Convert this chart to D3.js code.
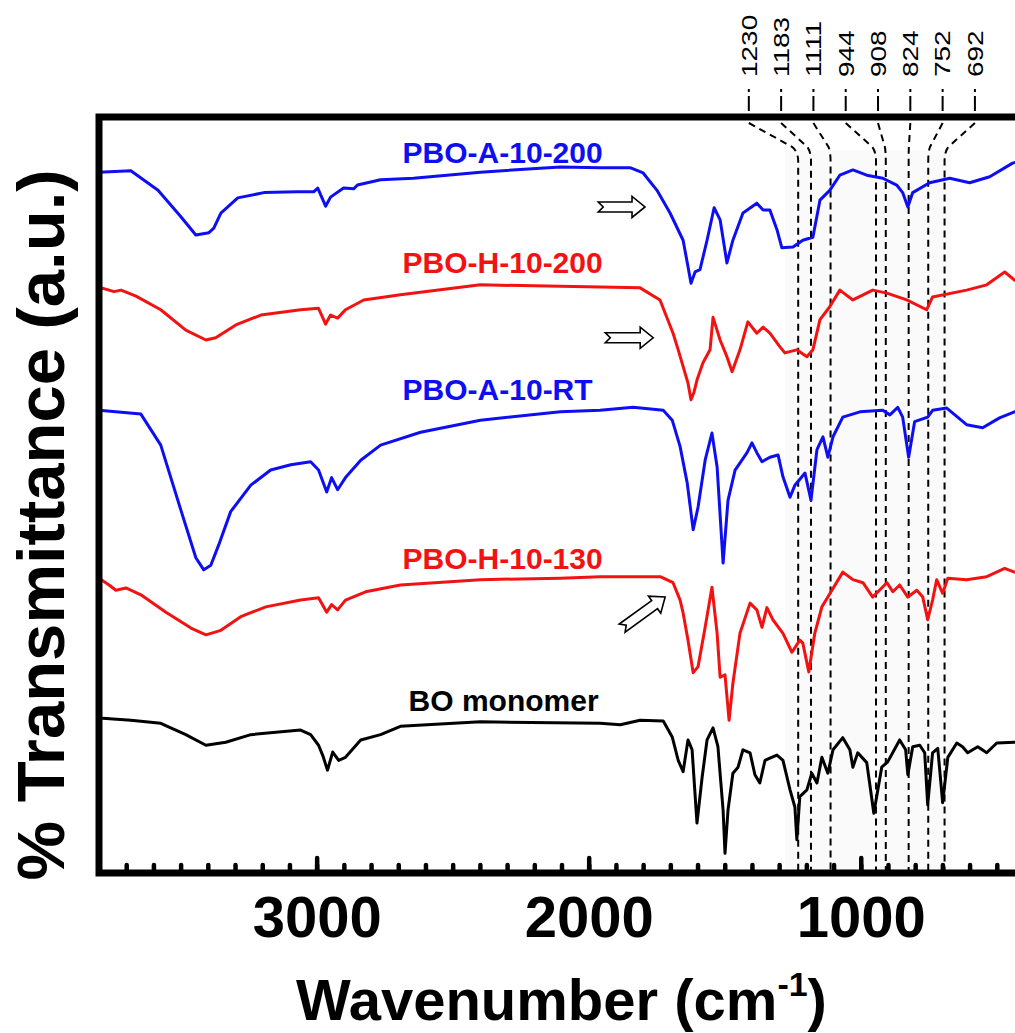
<!DOCTYPE html>
<html><head><meta charset="utf-8">
<script src="https://cdn.jsdelivr.net/npm/d3@7"></script>
<style>body{margin:0;background:#fff}svg{display:block}</style>
</head><body>
<svg id="chart" width="1015" height="1033"></svg>
<script>
// ---------------- data ----------------
const xDomain = [3800, 400];          // wavenumber, cm-1 (reversed axis)
const yDomain = [0, 100];             // % transmittance, arbitrary units (offset spectra)
const majorTicks = [3000, 2000, 1000];
const minorTicks = [3800,3700,3600,3500,3400,3300,3200,3100,3000,2900,2800,2700,2600,2500,2400,2300,2200,2100,2000,1900,1800,1700,1600,1500,1400,1300,1200,1100,1000,900,800,700,600,500,400];
const peakMarks = [1230, 1183, 1111, 944, 908, 824, 752, 692];
const seriesNames = ["PBO-A-10-200", "PBO-H-10-200", "PBO-A-10-RT", "PBO-H-10-130", "BO monomer"];

const pboA200 = [[3800,92.7],[3683,92.9],[3583,90.3],[3499,86.8],[3444,84.4],[3396,84.7],[3378,85.3],[3352,87.3],[3290,89.3],[3194,90.0],[3070,90.1],[3011,90.1],[2996,90.6],[2967,88.2],[2949,89.4],[2901,90.6],[2864,90.5],[2850,91.0],[2765,91.7],[2644,91.9],[2398,92.7],[2104,93.4],[1958,93.3],[1848,93.3],[1800,92.6],[1749,90.3],[1701,87.3],[1653,83.7],[1635,80.2],[1624,78.0],[1609,79.5],[1591,79.8],[1565,83.7],[1539,88.0],[1517,86.4],[1492,80.7],[1470,83.7],[1433,87.3],[1382,88.6],[1359,87.7],[1334,87.7],[1308,85.1],[1290,82.7],[1249,82.8],[1213,83.7],[1176,84.1],[1150,89.0],[1114,90.3],[1077,92.3],[1029,93.0],[978,92.3],[919,91.9],[868,91.0],[846,90.0],[827,88.1],[809,90.0],[747,91.3],[673,91.9],[600,91.3],[526,92.1],[442,93.9],[400,94.3]];

const pboH200 = [[3800,77.5],[3745,76.9],[3719,77.1],[3664,76.3],[3573,74.5],[3481,71.8],[3407,70.5],[3371,70.8],[3297,72.5],[3205,73.8],[3059,74.5],[2993,74.7],[2967,72.6],[2949,73.8],[2923,73.4],[2894,74.5],[2827,75.8],[2692,76.5],[2398,77.8],[2104,77.6],[1811,77.4],[1738,75.8],[1690,71.4],[1671,69.2],[1635,64.8],[1624,62.6],[1613,63.6],[1602,65.2],[1580,67.5],[1554,69.2],[1543,73.5],[1517,70.5],[1492,68.3],[1473,66.3],[1444,69.2],[1415,72.9],[1382,71.4],[1359,72.2],[1334,71.4],[1297,69.6],[1279,68.8],[1235,69.2],[1198,68.3],[1176,69.2],[1150,73.2],[1114,74.9],[1077,77.1],[1029,75.8],[956,77.1],[904,76.7],[831,75.8],[758,74.5],[736,76.2],[611,77.1],[537,77.8],[471,79.5],[434,78.4],[400,78.7]];

const pboART = [[3800,61.2],[3646,60.7],[3573,56.6],[3499,48.0],[3444,41.7],[3415,40.1],[3389,40.7],[3360,43.4],[3316,47.8],[3242,51.3],[3169,53.3],[3095,54.0],[3022,54.4],[2993,53.3],[2963,50.4],[2945,52.3],[2923,50.7],[2894,52.3],[2838,54.6],[2765,56.6],[2618,58.3],[2398,59.9],[2104,61.0],[1958,61.2],[1837,61.6],[1726,61.2],[1693,59.9],[1664,56.4],[1638,51.6],[1616,45.4],[1598,48.4],[1572,54.6],[1547,58.2],[1528,53.7],[1506,41.0],[1488,49.3],[1462,53.3],[1418,55.6],[1400,56.9],[1382,55.6],[1363,54.4],[1334,55.0],[1304,55.3],[1286,52.4],[1260,49.7],[1242,51.3],[1205,52.9],[1183,49.3],[1161,56.0],[1139,57.7],[1121,55.0],[1102,57.7],[1066,60.3],[1003,61.0],[919,61.2],[893,60.6],[864,61.6],[846,60.3],[824,55.0],[802,59.7],[754,60.3],[736,61.2],[684,61.5],[611,59.3],[552,58.9],[490,60.2],[435,61.0],[400,61.2]];

const pboH130 = [[3800,39.0],[3763,38.1],[3738,37.4],[3701,37.7],[3646,36.8],[3554,34.5],[3462,32.4],[3407,31.5],[3352,32.1],[3279,33.9],[3187,35.2],[3059,36.1],[2993,36.4],[2963,34.5],[2945,35.5],[2923,34.8],[2894,36.1],[2820,37.2],[2692,38.1],[2398,38.8],[2104,39.0],[1958,39.2],[1737,39.2],[1690,38.4],[1664,36.1],[1653,34.4],[1635,30.8],[1616,26.5],[1598,27.3],[1572,32.5],[1547,37.8],[1528,31.7],[1517,25.9],[1499,26.2],[1484,20.2],[1470,25.1],[1444,31.7],[1407,35.7],[1382,34.8],[1363,32.5],[1345,35.1],[1323,33.5],[1286,31.7],[1253,29.2],[1224,30.8],[1213,30.4],[1191,26.6],[1169,31.7],[1143,35.2],[1121,36.5],[1066,39.8],[1029,38.8],[992,38.4],[956,36.5],[904,38.4],[882,37.2],[857,38.1],[827,36.5],[794,37.4],[772,36.5],[754,33.5],[736,36.1],[721,38.8],[699,37.0],[680,39.0],[611,38.8],[537,39.2],[471,40.3],[435,39.8],[400,40.1]];

const boMonomer = [[3800,20.5],[3683,20.2],[3573,19.8],[3481,18.3],[3407,16.9],[3334,17.3],[3242,18.3],[3059,18.9],[3022,18.3],[2993,16.9],[2978,15.6],[2960,13.6],[2941,16.0],[2919,14.9],[2894,15.3],[2838,17.6],[2765,18.3],[2692,19.4],[2398,20.0],[1958,19.8],[1884,19.6],[1811,20.2],[1726,20.1],[1693,18.0],[1671,14.9],[1653,13.4],[1635,17.6],[1620,16.3],[1602,6.6],[1583,12.7],[1565,17.6],[1543,19.2],[1525,16.7],[1506,8.3],[1499,2.6],[1488,8.3],[1470,13.2],[1451,14.0],[1433,16.3],[1407,15.9],[1389,13.0],[1371,11.9],[1352,14.9],[1334,15.2],[1308,15.6],[1286,14.9],[1260,11.0],[1242,8.7],[1235,4.4],[1224,10.1],[1198,11.0],[1180,13.2],[1161,11.9],[1143,15.3],[1121,13.2],[1102,16.3],[1066,17.9],[1040,16.3],[1029,14.0],[1011,15.9],[978,14.6],[952,7.9],[923,14.0],[901,14.7],[857,17.6],[835,16.3],[827,13.0],[809,16.7],[783,16.9],[765,15.9],[754,9.0],[736,15.9],[717,16.5],[699,9.3],[680,15.3],[647,17.2],[626,16.7],[607,15.9],[570,16.7],[537,15.9],[500,17.2],[435,17.3],[400,17.3]];

// ---------------- layout / style ----------------
const W = 1015, H = 1033;
const plot = {left: 99, right: 1024, top: 117, bottom: 873};
const colors = ["#0e0ef2", "#f21212", "#0e0ef2", "#f21212", "#000000"];
const seriesData = [pboA200, pboH200, pboART, pboH130, boMonomer];
// series label anchors (wavenumber, value)
const labelAnchors = [[2684, 93.9], [2684, 79.4], [2684, 62.6], [2684, 40.2], [2662, 21.4]];
// hollow arrows: [tail w, tail v, tip w, tip v]
const arrowMarks = [[1965, 88.1, 1793, 88.1], [1939, 70.8, 1763, 70.8], [1877, 32.4, 1719, 36.5]];
const shadeRange = [1279, 666];
const FONT = "'Liberation Sans', Arial, Helvetica, sans-serif";

const svg = d3.select("#chart");
svg.append("rect").attr("width", W).attr("height", H).attr("fill", "#fff");

const x = d3.scaleLinear().domain(xDomain).range([plot.left, plot.right]);
const y = d3.scaleLinear().domain(yDomain).range([plot.bottom, plot.top]);

// very faint shaded band behind peak markers
svg.append("rect")
  .attr("x", x(shadeRange[0])).attr("y", 150)
  .attr("width", x(shadeRange[1]) - x(shadeRange[0]))
  .attr("height", plot.bottom - 150)
  .attr("fill", "#fafafa");

// peak marker dashed lines + labels
const dataX = peakMarks.map(w => x(w));
const meanX = d3.mean(dataX);
const spacing = 32.3;
const labelX = peakMarks.map((w, i) => meanX - 11 + (i - (peakMarks.length - 1) / 2) * spacing);
const mk = svg.append("g");
peakMarks.forEach((w, i) => {
  const dx = dataX[i], lx = labelX[i];
  mk.append("path")
    .attr("d", `M${lx},${plot.top + 6} L${dx + (lx - dx) * 0.12},${plot.top + 30} Q${dx},${plot.top + 35} ${dx},${plot.top + 44} L${dx},${plot.bottom - 3}`)
    .attr("fill", "none").attr("stroke", "#000").attr("stroke-width", 2)
    .attr("stroke-dasharray", "7,5");
  mk.append("line")
    .attr("x1", lx).attr("x2", lx).attr("y1", 89).attr("y2", 111)
    .attr("stroke", "#000").attr("stroke-width", 2)
    .attr("stroke-dasharray", "3,4,15");
  mk.append("text")
    .attr("transform", `translate(${lx},77) rotate(-90) scale(1,0.78)`)
    .attr("dy", "0.36em")
    .attr("font-family", FONT).attr("font-size", 28)
    .attr("fill", "#000")
    .text(w);
});

// spectra
svg.append("clipPath").attr("id", "clip").append("rect")
  .attr("x", plot.left).attr("y", plot.top).attr("width", plot.right - plot.left).attr("height", plot.bottom - plot.top);
const line = d3.line().x(d => x(d[0])).y(d => y(d[1]));
const gLines = svg.append("g").attr("clip-path", "url(#clip)");
seriesData.forEach((s, i) => {
  gLines.append("path").datum(s)
    .attr("d", line)
    .attr("fill", "none").attr("stroke", colors[i])
    .attr("stroke-width", 3).attr("stroke-linejoin", "round");
});

// series labels
seriesNames.forEach((n, i) => {
  svg.append("text")
    .attr("x", x(labelAnchors[i][0])).attr("y", y(labelAnchors[i][1]))
    .attr("font-family", FONT).attr("font-weight", "bold").attr("font-size", 30)
    .attr("fill", colors[i]).text(n);
});

// hollow arrows
arrowMarks.forEach(a => {
  const x0 = x(a[0]), y0 = y(a[1]), x1 = x(a[2]), y1 = y(a[3]);
  const L = Math.hypot(x1 - x0, y1 - y0);
  const ang = Math.atan2(y1 - y0, x1 - x0) * 180 / Math.PI;
  const hl = 13, hh = 10.5, sh = 5, notch = 5;
  svg.append("path")
    .attr("transform", `translate(${x0},${y0}) rotate(${ang})`)
    .attr("d", `M0,${-sh} L${L - hl},${-sh} L${L - hl},${-hh} L${L},0 L${L - hl},${hh} L${L - hl},${sh} L0,${sh} L${notch},0 Z`)
    .attr("fill", "#fff").attr("stroke", "#000").attr("stroke-width", 1.6)
    .attr("stroke-linejoin", "miter");
});

// ticks (inside, pointing up)
const minorAxis = d3.axisTop(x).tickValues(minorTicks).tickSize(8).tickFormat("");
const majorAxis = d3.axisTop(x).tickValues(majorTicks).tickSize(15).tickFormat("");
[minorAxis, majorAxis].forEach(ax => {
  const g = svg.append("g").attr("transform", `translate(0,${plot.bottom})`).call(ax);
  g.select(".domain").remove();
  g.selectAll(".tick line").attr("stroke", "#000").attr("stroke-width", 4.5).attr("stroke-linecap", "round");
});
// tick labels
const lab = svg.append("g").attr("transform", `translate(0,${plot.bottom})`)
  .call(d3.axisBottom(x).tickValues(majorTicks).tickSize(0).tickPadding(22).tickFormat(d3.format("d")));
lab.select(".domain").remove();
lab.selectAll("text").attr("font-family", FONT).attr("font-weight", "bold").attr("font-size", 58)
  .attr("fill", "#000").attr("dy", null).attr("y", 64);

// frame
svg.append("rect")
  .attr("x", plot.left).attr("y", plot.top)
  .attr("width", plot.right - plot.left).attr("height", plot.bottom - plot.top)
  .attr("fill", "none").attr("stroke", "#000").attr("stroke-width", 7);

// axis titles
const xt = svg.append("text")
  .attr("x", (plot.left + plot.right) / 2).attr("y", 1020)
  .attr("text-anchor", "middle")
  .attr("font-family", FONT).attr("font-weight", "bold").attr("font-size", 58).attr("fill", "#000");
xt.append("tspan").text("Wavenumber (cm");
xt.append("tspan").attr("font-size", 34).attr("dy", -24).text("-1");
xt.append("tspan").attr("dy", 24).text(")");

svg.append("text")
  .attr("transform", `translate(64,525) rotate(-90)`)
  .attr("text-anchor", "middle")
  .attr("font-family", FONT).attr("font-weight", "bold").attr("font-size", 67).attr("fill", "#000")
  .text("% Transmittance (a.u.)");
</script>
</body></html>
